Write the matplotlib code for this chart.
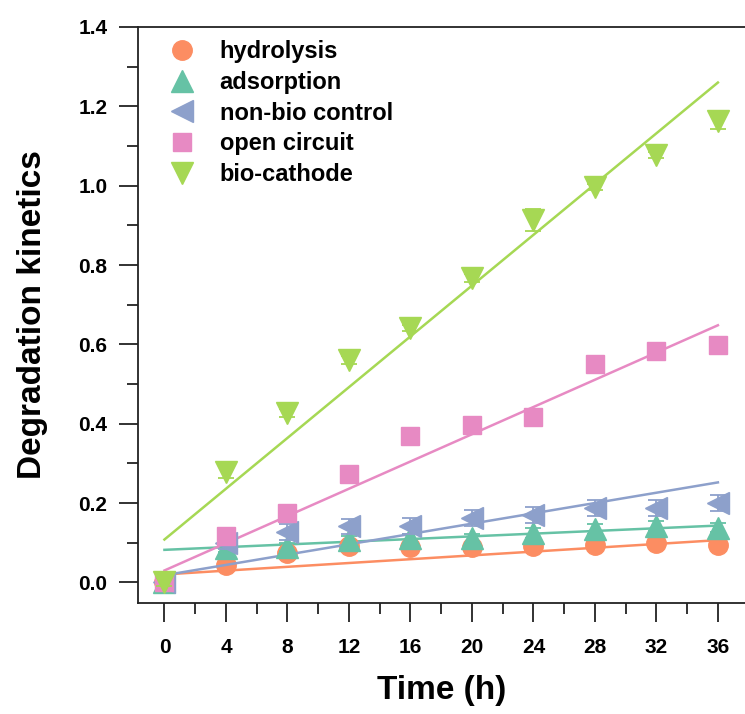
import matplotlib
matplotlib.use("Agg")
import matplotlib.pyplot as plt
import numpy as np
from matplotlib.ticker import MultipleLocator

# ---- data ----
time_h = [0, 4, 8, 12, 16, 20, 24, 28, 32, 36]
series_names = ["hydrolysis", "adsorption", "non-bio control", "open circuit", "bio-cathode"]
hydrolysis = [0.0, 0.043, 0.075, 0.092, 0.088, 0.088, 0.092, 0.095, 0.098, 0.094]
adsorption = [0.0, 0.086, 0.089, 0.106, 0.111, 0.111, 0.124, 0.135, 0.142, 0.138]
non_bio = [0.0, 0.100, 0.128, 0.141, 0.143, 0.162, 0.170, 0.187, 0.188, 0.200]
open_circuit = [0.0, 0.116, 0.175, 0.273, 0.370, 0.397, 0.418, 0.550, 0.582, 0.598]
bio_cathode = [0.0, 0.279, 0.427, 0.561, 0.641, 0.767, 0.914, 0.997, 1.078, 1.164]

err_hydrolysis = [0.006, 0.010, 0.008, 0.010, 0.012, 0.012, 0.010, 0.010, 0.012, 0.012]
err_adsorption = [0.006, 0.010, 0.010, 0.012, 0.012, 0.012, 0.012, 0.012, 0.012, 0.012]
err_non_bio = [0.008, 0.015, 0.020, 0.020, 0.020, 0.020, 0.020, 0.020, 0.020, 0.020]
err_open = [0.005, 0.010, 0.008, 0.008, 0.008, 0.008, 0.008, 0.008, 0.008, 0.008]
err_bio = [0.010, 0.015, 0.010, 0.010, 0.008, 0.010, 0.028, 0.008, 0.008, 0.020]

# linear fits (slope, intercept) as drawn in the figure
fit_slope = [0.0024, 0.0017, 0.0065, 0.01717, 0.0320]
fit_intercept = [0.020, 0.082, 0.018, 0.030, 0.108]

colors = ["#FC8D62", "#66C2A5", "#8DA0CB", "#E78AC3", "#A6D854"]
markers = ["o", "^", "<", "s", "v"]
msizes = [14, 16, 16, 13, 16]

values = [hydrolysis, adsorption, non_bio, open_circuit, bio_cathode]
errors = [err_hydrolysis, err_adsorption, err_non_bio, err_open, err_bio]

plt.rcParams['font.family'] = ['Liberation Sans', 'DejaVu Sans']

W, H = 745, 714
fig = plt.figure(figsize=(W / 100, H / 100), dpi=100)
left_px, right_px, top_px, bot_px = 138, 138 + 641.4, 27, 603
ax = fig.add_axes([left_px / W, (H - bot_px) / H, (right_px - left_px) / W, (bot_px - top_px) / H])

xfit = np.array([min(time_h), max(time_h)])
for i, name in enumerate(series_names):
    ax.plot(xfit, fit_slope[i] * xfit + fit_intercept[i], color=colors[i], lw=1.8, zorder=2 + i)
    ax.errorbar(time_h, values[i], yerr=errors[i], fmt=markers[i], color=colors[i],
                ms=msizes[i], mec=colors[i], ecolor=colors[i], elinewidth=1.3,
                capsize=6, capthick=1.3, label=name, zorder=3 + i)

ax.set_xlim(-1.72, 40)
ax.set_ylim(-0.052, 1.4)
ax.xaxis.set_major_locator(MultipleLocator(4))
ax.xaxis.set_minor_locator(MultipleLocator(2))
ax.yaxis.set_major_locator(MultipleLocator(0.2))
ax.yaxis.set_minor_locator(MultipleLocator(0.1))
ax.set_yticks(np.arange(0, 1.41, 0.2))
ax.set_yticklabels([f"{v:.1f}" for v in np.arange(0, 1.41, 0.2)])
ax.set_xticks(time_h)
ax.set_xticklabels([str(t) for t in time_h])

for sp in ["left", "bottom", "top"]:
    ax.spines[sp].set_linewidth(1.3)
    ax.spines[sp].set_color("#222222")
ax.spines["right"].set_visible(False)

ax.tick_params(axis="both", which="major", direction="out", length=14, width=1.3,
               labelsize=15, colors="#222222")
ax.tick_params(axis="both", which="minor", direction="out", length=8, width=1.3, colors="#222222")
ax.tick_params(axis="x", which="major", pad=11)
ax.tick_params(axis="y", which="major", pad=8)
ax.tick_params(top=False, right=False, which="both")
for lab in ax.get_xticklabels() + ax.get_yticklabels():
    lab.set_fontweight("bold")
    lab.set_color("black")

ax.set_xlabel("Time (h)", fontsize=24, fontweight="bold")
ax.set_ylabel("Degradation kinetics", fontsize=24, fontweight="bold")
ax.xaxis.set_label_coords((441.3 - left_px) / (right_px - left_px), -(690 - bot_px) / (bot_px - top_px))
ax.yaxis.set_label_coords(-(left_px - 32) / (right_px - left_px), 0.5)
ax.xaxis.label.set_va("center")
ax.yaxis.label.set_va("center")

handles, labels = ax.get_legend_handles_labels()
handles = [h[0] for h in handles]
leg = ax.legend(handles, labels, loc="upper left",
                bbox_to_anchor=((170 - left_px) / (right_px - left_px), (bot_px - 40) / (bot_px - top_px)),
                frameon=False, handlelength=1.0, handletextpad=1.1, labelspacing=0.33,
                borderpad=0, borderaxespad=0, prop={"size": 17, "weight": "bold"})

fig.savefig("out.png", dpi=100)
